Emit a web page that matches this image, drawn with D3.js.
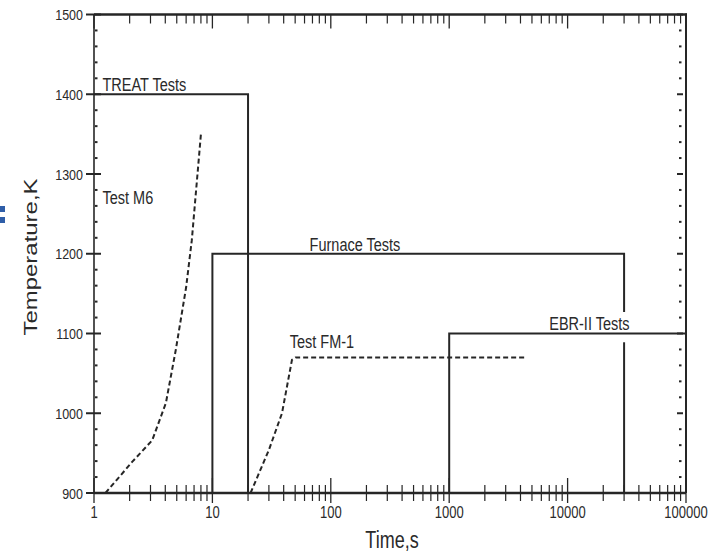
<!DOCTYPE html>
<html>
<head>
<meta charset="utf-8">
<script src="https://cdn.jsdelivr.net/npm/d3@7"></script>
<style>
  html, body { margin: 0; padding: 0; background: #fff; }
  svg { display: block; }
  text { font-family: "Liberation Sans", Arial, Helvetica, sans-serif; fill: #2a2a2a; }
</style>
</head>
<body>
<svg id="chart" width="710" height="555"></svg>
<script>
// ---------------- data ----------------
const xDomain = [1, 100000];
const yDomain = [900, 1500];
const xTickValues = [1, 10, 100, 1000, 10000, 100000];
const xTickLabels = ["1", "10", "100", "1000", "10000", "100000"];
const yTickValues = [900, 1000, 1100, 1200, 1300, 1400, 1500];
const yTickLabels = ["900", "1000", "1100", "1200", "1300", "1400", "1500"];

// step envelopes (solid)
const treatTimes = [1, 20, 20];
const treatTemps = [1400, 1400, 900];
const furnaceTimes = [10, 10, 30000, 30000, 30000, 30000];
const furnaceTemps = [900, 1200, 1200, 1127, null, 1089];
const furnaceTail = [[30000, 1089], [30000, 900]];
const ebrTimes = [1000, 1000, 100000];
const ebrTemps = [900, 1100, 1100];

// measured histories (dashed)
const m6Times = [1.25, 2.1, 3.1, 4.05, 4.9, 6.0, 6.7, 8.0];
const m6Temps = [900, 939, 966, 1013, 1079, 1158, 1217, 1350];
const fm1Times = [21, 30, 38.7, 47, 50.5, 4500];
const fm1Temps = [900, 954, 1000, 1067, 1070, 1070];

const labels = [
  { text: "TREAT Tests", t: 1.18, T: 1404, anchor: "start" },
  { text: "Test M6", t: 1.18, T: 1263, anchor: "start" },
  { text: "Furnace Tests", t: 160, T: 1204, anchor: "middle" },
  { text: "Test FM-1", t: 45, T: 1082, anchor: "start" },
  { text: "EBR-II Tests", t: 7000, T: 1104, anchor: "start" }
];

// ---------------- layout ----------------
const pLeft = 94, pRight = 686, pTop = 14.5, pBottom = 493;
const svg = d3.select("#chart");
const x = d3.scaleLog().domain(xDomain).range([pLeft, pRight]);
const y = d3.scaleLinear().domain(yDomain).range([pBottom, pTop]);
const ink = "#262626";
const SY = 1.28;

function zip(a, b) { return a.map((v, i) => [v, b[i]]); }
const lineGen = d3.line()
  .defined(d => d[1] !== null)
  .x(d => x(d[0])).y(d => y(d[1]));

// frame
svg.append("line").attr("x1", pLeft).attr("x2", pLeft).attr("y1", pTop).attr("y2", pBottom)
  .attr("stroke", ink).attr("stroke-width", 1.6);
svg.append("line").attr("x1", pRight).attr("x2", pRight).attr("y1", pTop - 1).attr("y2", pBottom)
  .attr("stroke", ink).attr("stroke-width", 2);
svg.append("line").attr("x1", pLeft).attr("x2", pRight + 1).attr("y1", pTop).attr("y2", pTop)
  .attr("stroke", ink).attr("stroke-width", 2.6);
svg.append("line").attr("x1", pLeft).attr("x2", pRight).attr("y1", pBottom).attr("y2", pBottom)
  .attr("stroke", ink).attr("stroke-width", 2.6);

// x minor/major ticks (log)
const minorX = [];
for (let d = 1; d < 100000; d *= 10) for (let k = 2; k <= 9; k++) minorX.push(d * k);
const gx = svg.append("g");
minorX.forEach(v => {
  gx.append("line").attr("x1", x(v)).attr("x2", x(v)).attr("y1", pBottom - 8).attr("y2", pBottom + 8)
    .attr("stroke", ink).attr("stroke-width", 1.2);
  gx.append("line").attr("x1", x(v)).attr("x2", x(v)).attr("y1", pTop).attr("y2", pTop + 9)
    .attr("stroke", ink).attr("stroke-width", 1.2);
});
xTickValues.forEach(v => {
  gx.append("line").attr("x1", x(v)).attr("x2", x(v)).attr("y1", pBottom - 15).attr("y2", pBottom + 10)
    .attr("stroke", ink).attr("stroke-width", 1.3);
  gx.append("line").attr("x1", x(v)).attr("x2", x(v)).attr("y1", pTop).attr("y2", pTop + 14)
    .attr("stroke", ink).attr("stroke-width", 1.3);
});
xTickValues.forEach((v, i) => {
  svg.append("text").attr("text-anchor", "middle").attr("font-size", 13)
    .attr("transform", `translate(${x(v)},${518}) scale(1,${SY})`)
    .text(xTickLabels[i]);
});

// y ticks
const gy = svg.append("g");
d3.range(900, 1501, 20).forEach(v => {
  if (v % 100 === 0) {
    gy.append("line").attr("x1", pLeft - 8).attr("x2", pLeft + 7).attr("y1", y(v)).attr("y2", y(v))
      .attr("stroke", ink).attr("stroke-width", 2);
    gy.append("line").attr("x1", pRight - 9).attr("x2", pRight - 3).attr("y1", y(v)).attr("y2", y(v))
      .attr("stroke", ink).attr("stroke-width", 2);
  } else {
    gy.append("line").attr("x1", pLeft + 1).attr("x2", pLeft + 3.5).attr("y1", y(v)).attr("y2", y(v))
      .attr("stroke", ink).attr("stroke-width", 2);
    gy.append("line").attr("x1", pRight - 7).attr("x2", pRight - 4.5).attr("y1", y(v)).attr("y2", y(v))
      .attr("stroke", ink).attr("stroke-width", 2);
  }
});
yTickValues.forEach((v, i) => {
  svg.append("text").attr("text-anchor", "end").attr("font-size", 12.5)
    .attr("transform", `translate(${83},${y(v) + 5.5}) scale(1,1.2)`)
    .text(yTickLabels[i]);
});

// solid envelopes
[zip(treatTimes, treatTemps), zip(furnaceTimes, furnaceTemps), furnaceTail, zip(ebrTimes, ebrTemps)]
  .forEach(pts => {
    svg.append("path").attr("d", lineGen(pts)).attr("fill", "none")
      .attr("stroke", ink).attr("stroke-width", 2);
  });

// dashed histories
[zip(m6Times, m6Temps), zip(fm1Times, fm1Temps)].forEach(pts => {
  svg.append("path").attr("d", lineGen(pts)).attr("fill", "none")
    .attr("stroke", ink).attr("stroke-width", 2).attr("stroke-dasharray", "5,3");
});

// curve labels
labels.forEach(l => {
  svg.append("text").attr("text-anchor", l.anchor).attr("font-size", 14.5)
    .attr("transform", `translate(${x(l.t)},${y(l.T)}) scale(1,${SY})`)
    .text(l.text);
});

// axis titles
svg.append("text").attr("text-anchor", "middle").attr("font-size", 18)
  .attr("transform", `translate(${392},${548}) scale(1,${SY})`)
  .text("Time,s");
svg.append("text").attr("text-anchor", "middle").attr("font-size", 19)
  .attr("transform", `translate(${37},${257}) rotate(-90) scale(1.26,1)`)
  .text("Temperature,K");

// stray blue marks at left edge of the scan
svg.append("rect").attr("x", 0).attr("y", 206).attr("width", 5).attr("height", 6).attr("fill", "#2f5ea8");
svg.append("rect").attr("x", 0).attr("y", 217).attr("width", 5).attr("height", 6).attr("fill", "#2f5ea8");
</script>
</body>
</html>
